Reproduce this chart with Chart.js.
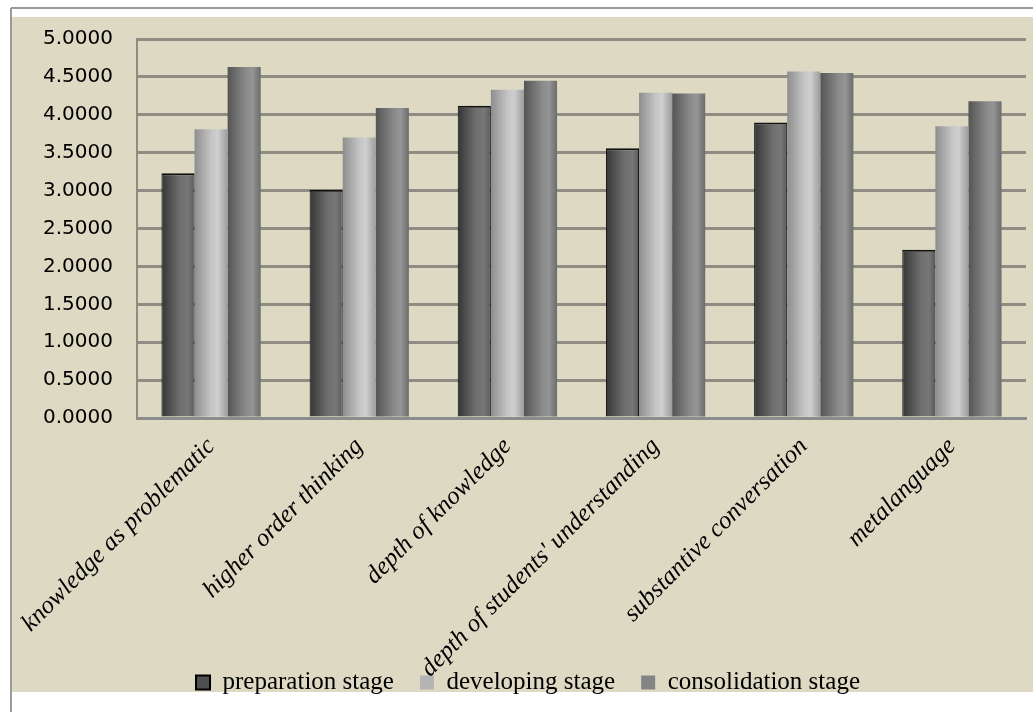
<!DOCTYPE html>
<html>
<head>
<meta charset="utf-8">
<script src="https://cdn.jsdelivr.net/npm/chart.js@4.4.1/dist/chart.umd.min.js"></script>
<style>
  html, body { margin: 0; padding: 0; background: #fff; }
  #wrap { width: 1033px; height: 712px; position: relative; }
</style>
</head>
<body>
<div id="wrap"><canvas id="chart"></canvas></div>
<script>
// Chart data
const categories = [
    'knowledge as problematic',
    'higher order thinking',
    'depth of knowledge',
    "depth of students' understanding",
    'substantive conversation',
    'metalanguage'
];
const seriesNames = ['preparation stage', 'developing stage', 'consolidation stage'];
const preparation = [3.23, 3.01, 4.12, 3.56, 3.90, 2.22];
const developing = [3.81, 3.70, 4.33, 4.29, 4.57, 3.85];
const consolidation = [4.63, 4.09, 4.45, 4.28, 4.55, 4.18];
const yTicks = [0, 0.5, 1, 1.5, 2, 2.5, 3, 3.5, 4, 4.5, 5];

const CATEGORY_PCT = 0.67;
const legendColors = ['#505050', '#b4b4b4', '#848484'];

// cylinder-like shading across the width of each bar
function barFill(stops) {
    return function(context) {
        const chart = context.chart;
        const xScale = chart.scales.x;
        if (!xScale || !xScale.width) {
            return stops[1][1];
        }
        const catWidth = xScale.width / categories.length;
        const barWidth = catWidth * CATEGORY_PCT / 3;
        const center = xScale.getPixelForValue(context.dataIndex);
        const left = center - 1.5 * barWidth + context.datasetIndex * barWidth;
        const g = chart.ctx.createLinearGradient(left, 0, left + barWidth, 0);
        stops.forEach(s => g.addColorStop(s[0], s[1]));
        return g;
    };
}

// panel background and frame lines
const panelPlugin = {
    id: 'panel',
    beforeDraw(chart) {
        const ctx = chart.ctx;
        ctx.save();
        ctx.fillStyle = '#ffffff';
        ctx.fillRect(0, 0, chart.width, chart.height);
        ctx.fillStyle = '#ddd9c3';
        ctx.fillRect(12, 17, chart.width - 12, 692 - 17);
        ctx.strokeStyle = '#9a9a9a';
        ctx.lineWidth = 2;
        ctx.beginPath();
        ctx.moveTo(11, 8);
        ctx.lineTo(chart.width, 8);
        ctx.moveTo(11, 8);
        ctx.lineTo(11, chart.height);
        ctx.stroke();
        ctx.restore();
    }
};

const ctx = document.getElementById('chart');

new Chart(ctx, {
    type: 'bar',
    data: {
        labels: categories,
        datasets: [{
            label: seriesNames[0],
            data: preparation,
            backgroundColor: barFill([[0, '#353535'], [0.55, '#6e6e6e'], [0.8, '#777777'], [1, '#5a5a5a']]),
            borderColor: '#111111',
            borderWidth: { top: 2, left: 1, right: 1, bottom: 0 },
            borderSkipped: 'bottom'
        }, {
            label: seriesNames[1],
            data: developing,
            backgroundColor: barFill([[0, '#8e8e8e'], [0.5, '#c4c4c6'], [0.7, '#cfcfd1'], [1, '#9c9c9c']]),
            borderWidth: 0
        }, {
            label: seriesNames[2],
            data: consolidation,
            backgroundColor: barFill([[0, '#555555'], [0.55, '#8a8a8a'], [0.75, '#959595'], [1, '#6c6c6c']]),
            borderWidth: 0
        }]
    },
    options: {
        responsive: true,
        maintainAspectRatio: false,
        animation: false,
        datasets: {
            bar: {
                categoryPercentage: CATEGORY_PCT,
                barPercentage: 1.0
            }
        },
        layout: {
            padding: { top: 39, left: 30, right: 7, bottom: 7 }
        },
        plugins: {
            legend: {
                position: 'bottom',
                labels: {
                    boxWidth: 14,
                    boxHeight: 14,
                    padding: 26,
                    color: '#000',
                    font: { family: '"Liberation Serif", "Times New Roman", serif', size: 25 },
                    generateLabels: function(chart) {
                        const items = Chart.defaults.plugins.legend.labels.generateLabels(chart);
                        items.forEach((item, i) => {
                            item.fillStyle = legendColors[i];
                            item.strokeStyle = i === 0 ? '#000' : legendColors[i];
                            item.lineWidth = i === 0 ? 2 : 0;
                        });
                        return items;
                    }
                }
            },
            tooltip: { enabled: false }
        },
        scales: {
            x: {
                grid: { display: false },
                border: { color: '#8c8c8c', width: 3 },
                ticks: {
                    color: '#000',
                    autoSkip: false,
                    minRotation: 45,
                    maxRotation: 45,
                    padding: 6,
                    font: { family: '"Liberation Serif", "Times New Roman", serif', size: 25, style: 'italic' }
                },
                afterFit: function(scale) {
                    scale.height = 226;
                    // long rotated labels run down into the legend band, don't clip them
                    scale._computeLabelArea = function() { return undefined; };
                }
            },
            y: {
                min: 0,
                max: 5,
                afterBuildTicks: function(scale) {
                    scale.ticks = yTicks.map(v => ({ value: v }));
                },
                grid: {
                    color: '#8f8c84',
                    lineWidth: 3,
                    drawTicks: false
                },
                border: { color: '#8f8c84', width: 2 },
                ticks: {
                    color: '#000',
                    padding: 24,
                    font: { family: '"DejaVu Sans", Verdana, sans-serif', size: 20 },
                    callback: function(value) {
                        return Number(value).toFixed(4);
                    }
                },
                afterFit: function(scale) {
                    scale.width = 107;
                }
            }
        }
    },
    plugins: [panelPlugin]
});
</script>
</body>
</html>
